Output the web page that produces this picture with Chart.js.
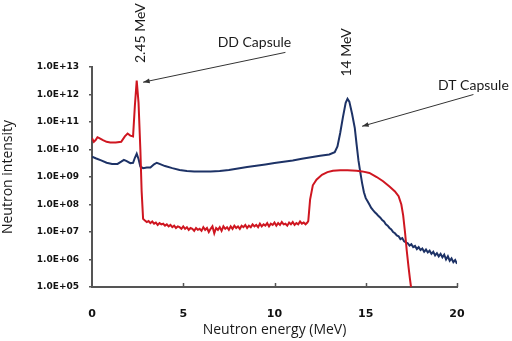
<!DOCTYPE html>
<html>
<head>
<meta charset="utf-8">
<script src="https://cdn.jsdelivr.net/npm/chart.js@4.4.1/dist/chart.umd.min.js"></script>
<style>
  html, body { margin: 0; padding: 0; background: #fff; }
  #wrap { width: 512px; height: 341px; }
</style>
</head>
<body>
<div id="wrap"><canvas id="chart"></canvas></div>
<script>
// DD capsule (red) : energy (MeV) and intensity
const ddEnergy = [
  0.0, 0.1, 0.2, 0.3, 0.4, 0.6, 0.8, 1.0, 1.3, 1.6, 1.8, 1.95, 2.1, 2.25,
  2.35, 2.45, 2.55, 2.65, 2.72, 2.8,
  2.9, 3.0, 3.1, 3.2, 3.3, 3.4, 3.5, 3.6, 3.7, 3.8, 3.9, 4.0, 4.1, 4.2, 4.3, 4.4,
  4.5, 4.6, 4.7, 4.8, 4.9, 5.0, 5.1, 5.2, 5.3, 5.4, 5.5, 5.6, 5.7, 5.8, 5.9, 6.0,
  6.1, 6.2, 6.3, 6.4, 6.5, 6.6, 6.7, 6.8, 6.9, 7.0, 7.1, 7.2, 7.3, 7.4, 7.5, 7.6,
  7.7, 7.8, 7.9, 8.0, 8.1, 8.2, 8.3, 8.4, 8.5, 8.6, 8.7, 8.8, 8.9, 9.0, 9.1, 9.2,
  9.3, 9.4, 9.5, 9.6, 9.7, 9.8, 9.9, 10.0, 10.1, 10.2, 10.3, 10.4, 10.5, 10.6,
  10.7, 10.8, 10.9, 11.0, 11.1, 11.2, 11.3, 11.4, 11.5, 11.6, 11.7, 11.8,
  11.85, 11.95, 12.1, 12.3, 12.6, 12.9, 13.2, 13.6, 14.0, 14.5, 14.8, 15.2, 15.6,
  15.95, 16.3, 16.6, 16.8, 16.95, 17.05, 17.15, 17.25, 17.35, 17.42, 17.48
];
const ddIntensity = [
  2.6e10, 1.9e10, 2.2e10, 2.8e10, 2.6e10, 2.2e10, 1.9e10, 1.8e10, 1.8e10, 1.9e10, 3.0e10, 3.8e10, 3.2e10, 3.0e10,
  4.0e11, 3.2e12, 5.0e11, 1.0e10, 3.0e8, 3.0e7,
  2.6e7, 2.3e7, 2.5e7, 2.1e7, 2.4e7, 2.0e7, 2.2e7, 1.8e7, 2.1e7, 1.9e7, 2.0e7, 1.7e7, 1.9e7, 1.6e7, 1.8e7, 1.5e7,
  1.7e7, 1.4e7, 1.6e7, 1.5e7, 1.3e7, 1.6e7, 1.3e7, 1.5e7, 1.2e7, 1.4e7, 1.3e7, 1.1e7, 1.4e7, 1.2e7, 1.3e7, 1.1e7,
  1.5e7, 1.2e7, 1.4e7, 1.0e7, 1.3e7, 1.6e7, 0.9e7, 1.4e7, 1.2e7, 1.5e7, 1.1e7, 1.6e7, 1.3e7, 1.5e7, 1.2e7, 1.6e7,
  1.3e7, 1.7e7, 1.4e7, 1.6e7, 1.3e7, 1.7e7, 1.5e7, 1.8e7, 1.4e7, 1.7e7, 1.5e7, 1.9e7, 1.6e7, 1.8e7, 1.5e7, 2.0e7,
  1.6e7, 1.9e7, 1.7e7, 2.1e7, 1.6e7, 2.0e7, 1.8e7, 2.2e7, 1.7e7, 2.1e7, 1.8e7, 2.3e7, 1.9e7, 2.0e7,
  1.7e7, 2.2e7, 1.9e7, 2.3e7, 1.8e7, 2.1e7, 1.9e7, 2.4e7, 2.0e7, 2.2e7, 1.9e7, 2.2e7,
  2.5e7, 1.5e8, 5.0e8, 8.0e8, 1.2e9, 1.5e9, 1.7e9, 1.75e9, 1.75e9, 1.7e9, 1.6e9, 1.4e9, 1.0e9,
  7.0e8, 4.5e8, 3.0e8, 2.0e8, 1.0e8, 4.0e7, 1.0e7, 2.0e6, 5.0e5, 2.0e5, 1.0e5
];

// DT capsule (blue) : energy (MeV) and intensity
const dtEnergy = [
  0.0, 0.2, 0.5, 0.8, 1.1, 1.4, 1.6, 1.75, 1.9, 2.1, 2.25, 2.35, 2.45, 2.55, 2.65,
  2.8, 3.0, 3.2, 3.4, 3.55, 3.7, 4.0, 4.4, 4.8, 5.2, 5.6, 6.0, 6.5, 7.0, 7.5, 8.0,
  8.5, 9.0, 9.5, 10.0, 10.5, 11.0, 11.5, 12.0, 12.5, 13.0, 13.3, 13.45, 13.6, 13.75,
  13.9, 14.0, 14.1, 14.25, 14.4, 14.5, 14.6, 14.7, 14.8, 14.9,
  15.0, 15.1, 15.2, 15.3, 15.4, 15.5, 15.6, 15.7, 15.8, 15.9, 16.0, 16.1, 16.2,
  16.3, 16.4, 16.5, 16.6, 16.7, 16.8, 16.9, 17.0, 17.1, 17.2, 17.3, 17.4, 17.5,
  17.6, 17.7, 17.8, 17.9, 18.0, 18.1, 18.2, 18.3, 18.4, 18.5, 18.6, 18.7, 18.8,
  18.9, 19.0, 19.1, 19.2, 19.3, 19.4, 19.5, 19.6, 19.7, 19.8, 19.9, 20.0
];
const dtIntensity = [
  5.5e9, 4.8e9, 4.0e9, 3.3e9, 3.0e9, 3.0e9, 3.6e9, 4.2e9, 3.8e9, 3.2e9, 3.3e9, 5.0e9, 7.0e9, 4.5e9, 2.4e9,
  2.1e9, 2.2e9, 2.2e9, 2.9e9, 3.3e9, 3.0e9, 2.5e9, 2.1e9, 1.8e9, 1.65e9, 1.6e9, 1.6e9, 1.6e9, 1.65e9, 1.8e9, 2.05e9,
  2.3e9, 2.55e9, 2.85e9, 3.2e9, 3.6e9, 4.0e9, 4.6e9, 5.2e9, 5.9e9, 6.6e9, 8.0e9, 1.3e10, 4.0e10, 1.5e11,
  5.0e11, 7.0e11, 5.5e11, 2.0e11, 6.0e10, 1.5e10, 4.0e9, 1.5e9, 6.0e8, 2.8e8,
  1.7e8, 1.3e8, 1.0e8, 7.5e7, 6.2e7, 5.2e7, 4.5e7, 3.8e7, 3.3e7, 2.7e7, 2.4e7, 1.9e7, 1.7e7,
  1.4e7, 1.25e7, 1.0e7, 9.0e6, 7.5e6, 7.0e6, 5.5e6, 6.0e6, 4.6e6, 4.2e6, 3.9e6, 3.2e6, 3.6e6,
  2.8e6, 3.1e6, 2.4e6, 2.8e6, 2.2e6, 2.5e6, 1.9e6, 2.3e6, 1.8e6, 2.1e6, 1.6e6, 1.9e6, 1.4e6,
  1.7e6, 1.3e6, 1.6e6, 1.2e6, 1.5e6, 1.0e6, 1.3e6, 0.9e6, 1.1e6, 0.8e6, 0.95e6, 0.7e6
];

const xTicks = [0, 5, 10, 15, 20];
const yTicks = [1e5, 1e6, 1e7, 1e8, 1e9, 1e10, 1e11, 1e12, 1e13];
const yTickLabels = ['1.0E+05', '1.0E+06', '1.0E+07', '1.0E+08', '1.0E+09', '1.0E+10', '1.0E+11', '1.0E+12', '1.0E+13'];

// callouts placed in data coordinates (energy, intensity)
const callouts = [
  { text: '2.45 MeV', x: 2.68, y: 1.7e14, rotate: true },
  { text: '14 MeV', x: 13.97, y: 3.4e13, rotate: true },
  { text: 'DD Capsule', x: 8.9, y: 8e13 },
  { text: 'DT Capsule', x: 20.9, y: 2.1e12 }
];
const arrows = [
  { from: [10.6, 3.4e13], to: [2.8, 2.8e12] },
  { from: [20.9, 1.0e12], to: [14.8, 7.0e10] }
];

const toPts = (xs, ys) => xs.map((x, i) => ({ x: x, y: ys[i] }));

const extras = {
  id: 'extras',
  afterDraw(chart) {
    const ctx = chart.ctx;
    const xs = chart.scales.x, ys = chart.scales.y;
    ctx.save();
    // inward tick marks on the x axis
    ctx.strokeStyle = '#555';
    ctx.lineWidth = 1.5;
    xTicks.slice(1).forEach(v => {
      const px = Math.round(xs.getPixelForValue(v)) + 0.5;
      ctx.beginPath();
      ctx.moveTo(px, ys.bottom);
      ctx.lineTo(px, ys.bottom - 4);
      ctx.stroke();
    });
    // texts
    ctx.fillStyle = '#1a1a1a';
    ctx.font = '14px Lato';
    ctx.textAlign = 'center';
    ctx.textBaseline = 'middle';
    callouts.forEach(c => {
      const px = xs.getPixelForValue(c.x), py = ys.getPixelForValue(c.y);
      if (c.rotate) {
        ctx.save();
        ctx.translate(px, py);
        ctx.rotate(-Math.PI / 2);
        ctx.fillText(c.text, 0, 0);
        ctx.restore();
      } else {
        ctx.fillText(c.text, px, py);
      }
    });
    // arrows
    ctx.strokeStyle = '#333';
    ctx.fillStyle = '#333';
    ctx.lineWidth = 1;
    arrows.forEach(a => {
      const x1 = xs.getPixelForValue(a.from[0]), y1 = ys.getPixelForValue(a.from[1]);
      const x2 = xs.getPixelForValue(a.to[0]), y2 = ys.getPixelForValue(a.to[1]);
      const ang = Math.atan2(y2 - y1, x2 - x1);
      ctx.beginPath();
      ctx.moveTo(x1, y1);
      ctx.lineTo(x2, y2);
      ctx.stroke();
      ctx.beginPath();
      ctx.moveTo(x2, y2);
      ctx.lineTo(x2 - 7 * Math.cos(ang - 0.35), y2 - 7 * Math.sin(ang - 0.35));
      ctx.lineTo(x2 - 7 * Math.cos(ang + 0.35), y2 - 7 * Math.sin(ang + 0.35));
      ctx.closePath();
      ctx.fill();
    });
    ctx.restore();
  }
};

new Chart(document.getElementById('chart'), {
  type: 'line',
  data: {
    datasets: [
      {
        label: 'DD Capsule',
        data: toPts(ddEnergy, ddIntensity),
        borderColor: '#cf1620',
        borderWidth: 2,
        pointRadius: 0,
        tension: 0
      },
      {
        label: 'DT Capsule',
        data: toPts(dtEnergy, dtIntensity),
        borderColor: '#1d3266',
        borderWidth: 2,
        pointRadius: 0,
        tension: 0
      }
    ]
  },
  options: {
    responsive: true,
    maintainAspectRatio: false,
    animation: false,
    layout: { padding: { top: 67, right: 55, left: 0, bottom: 0 } },
    plugins: {
      legend: { display: false },
      tooltip: { enabled: false }
    },
    scales: {
      x: {
        type: 'linear',
        min: 0,
        max: 20,
        afterBuildTicks: s => { s.ticks = xTicks.map(v => ({ value: v })); },
        afterFit: s => { s.height = 54; },
        grid: { display: false },
        border: { color: '#555', width: 2 },
        ticks: { color: '#111', font: { family: 'DejaVu Sans', size: 11, weight: 'bold' }, padding: 13 },
        title: {
          display: true,
          text: 'Neutron energy (MeV)',
          color: '#1a1a1a',
          font: { family: 'Open Sans', size: 14 },
          padding: { top: 0, bottom: 3 }
        }
      },
      y: {
        type: 'logarithmic',
        min: 1e5,
        max: 1e13,
        afterBuildTicks: s => { s.ticks = yTicks.map(v => ({ value: v })); },
        afterFit: s => { s.width = 92; },
        grid: { drawOnChartArea: false, drawTicks: true, tickLength: 3, color: '#555', lineWidth: 1.5 },
        border: { color: '#555', width: 2 },
        ticks: {
          color: '#111',
          font: { family: 'DejaVu Sans', size: 9, weight: 'bold' },
          padding: 10,
          callback: v => yTickLabels[yTicks.indexOf(v)]
        },
        title: {
          display: true,
          text: 'Neutron intensity',
          color: '#1a1a1a',
          font: { family: 'Open Sans', size: 14 },
          padding: { top: 0, bottom: 0 }
        }
      }
    }
  },
  plugins: [extras]
});
</script>
</body>
</html>
